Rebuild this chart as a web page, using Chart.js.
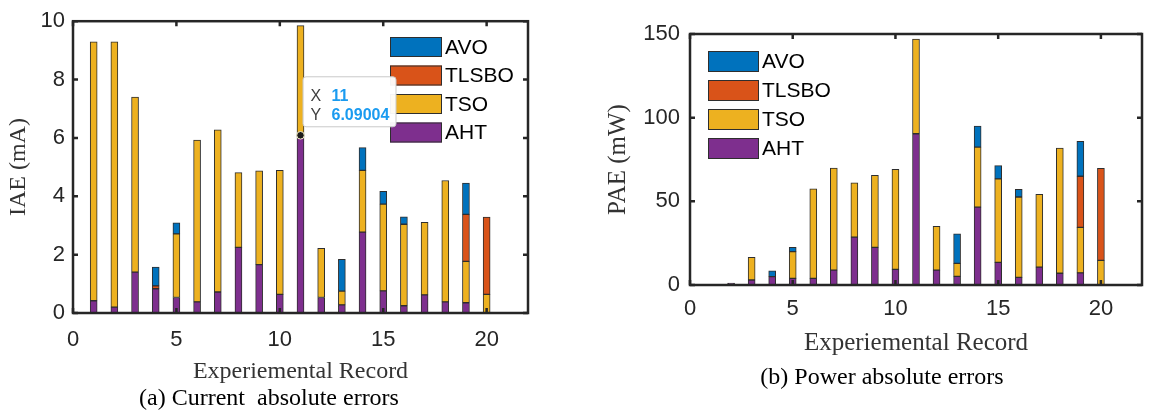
<!DOCTYPE html>
<html>
<head>
<meta charset="utf-8">
<script src="https://cdn.jsdelivr.net/npm/chart.js@4.4.1/dist/chart.umd.min.js"></script>
<style>
  body { margin: 0; background: #fff; width: 1154px; height: 413px; overflow: hidden; }
  canvas { position: absolute; top: 0; }
  #iae { left: 0; }
  #pae { left: 577px; }
</style>
</head>
<body>
<canvas id="iae" width="577" height="413"></canvas>
<canvas id="pae" width="577" height="413"></canvas>
<script>
// experimental records on the x axis
const records = [1, 2, 3, 4, 5, 6, 7, 8, 9, 10, 11, 12, 13, 14, 15, 16, 17, 18, 19, 20];

// current absolute errors (mA), one array per method
const iaeAHT   = [0.42, 0.20, 1.40, 0.83, 0.53, 0.38, 0.72, 2.25, 1.66, 0.64, 6.09004, 0.53, 0.28, 2.77, 0.76, 0.25, 0.62, 0.38, 0.35, 0];
const iaeTSO   = [8.87, 9.09, 6.00, 0, 2.18, 5.55, 5.56, 2.56, 3.21, 4.25, 3.76, 1.69, 0.47, 2.12, 2.97, 2.79, 2.49, 4.16, 1.42, 0.64];
const iaeTLSBO = [0, 0, 0, 0.10, 0, 0, 0, 0, 0, 0, 0, 0, 0, 0, 0, 0, 0, 0, 1.61, 2.65];
const iaeAVO   = [0, 0, 0, 0.64, 0.38, 0, 0, 0, 0, 0, 0, 0, 1.09, 0.78, 0.44, 0.26, 0, 0, 1.07, 0];

// power absolute errors (mW)
const paeAHT   = [0, 1.2, 3.0, 5.0, 4.0, 4.0, 8.9, 28.6, 22.5, 9.3, 90.4, 8.9, 5.2, 46.5, 13.5, 4.6, 10.7, 7.0, 7.2, 0];
const paeTSO   = [0, 0, 13.5, 0, 15.9, 53.4, 61.0, 32.4, 43.1, 59.8, 56.6, 26.1, 7.7, 35.9, 49.9, 48.0, 43.5, 74.8, 27.2, 14.7];
const paeTLSBO = [0, 0, 0, 0, 0, 0, 0, 0, 0, 0, 0, 0, 0, 0, 0, 0, 0, 0, 30.6, 55.0];
const paeAVO   = [0, 0, 0, 3.5, 2.6, 0, 0, 0, 0, 0, 0, 0, 17.7, 12.5, 7.9, 4.6, 0, 0, 20.8, 0];

// stacking order bottom -> top
const methods = ["AHT", "TSO", "TLSBO", "AVO"];
const methodColors = { AVO: "#0072BD", TLSBO: "#D95319", TSO: "#EDB120", AHT: "#7E2F8E" };

const sans = "'Liberation Sans', Arial, sans-serif";
const serif = "'Liberation Serif', 'Times New Roman', serif";
const ink = "#262626";

const toPoints = vals => records.map((r, i) => ({ x: r, y: vals[i] }));

const makeDatasets = series => methods.map(m => ({
  label: m,
  data: toPoints(series[m]),
  backgroundColor: methodColors[m],
  borderColor: "#2e2e2e",
  borderWidth: 1,
  borderSkipped: false,
  barThickness: 7
}));

// axes box with MATLAB-style inward ticks
const framePlugin = {
  id: "frame",
  afterDatasetsDraw(chart) {
    const { ctx, chartArea: a, scales: { x, y } } = chart;
    ctx.save();
    ctx.strokeStyle = ink;
    ctx.lineWidth = 2.5;
    ctx.beginPath();
    x.ticks.forEach(t => {
      const px = x.getPixelForValue(t.value);
      ctx.moveTo(px, a.bottom); ctx.lineTo(px, a.bottom - 5);
      ctx.moveTo(px, a.top); ctx.lineTo(px, a.top + 5);
    });
    y.ticks.forEach(t => {
      const py = y.getPixelForValue(t.value);
      ctx.moveTo(a.left, py); ctx.lineTo(a.left + 5, py);
      ctx.moveTo(a.right, py); ctx.lineTo(a.right - 5, py);
    });
    ctx.stroke();
    ctx.strokeRect(a.left, a.top, a.width, a.height);
    ctx.restore();
  }
};

// legend drawn top-down in reverse stacking order
const keyPlugin = {
  id: "keyBox",
  afterDatasetsDraw(chart, args, opts) {
    const { ctx } = chart;
    ctx.save();
    ctx.font = `21px ${sans}`;
    ctx.textBaseline = "middle";
    ctx.textAlign = "left";
    [...methods].reverse().forEach((m, i) => {
      const top = opts.y + i * opts.step;
      ctx.fillStyle = methodColors[m];
      ctx.fillRect(opts.x, top, opts.w, opts.h);
      ctx.strokeStyle = "#2e2e2e";
      ctx.lineWidth = 1;
      ctx.strokeRect(opts.x + 0.5, top + 0.5, opts.w - 1, opts.h - 1);
      ctx.fillStyle = "#000";
      ctx.fillText(m, opts.x + opts.w + 3, top + opts.h / 2 + 1);
    });
    ctx.restore();
  }
};

// data tip on one point
const tipPlugin = {
  id: "datatip",
  afterDatasetsDraw(chart, args, opts) {
    if (opts.x == null) return;
    const { ctx, scales: { x, y } } = chart;
    const px = x.getPixelForValue(opts.x);
    const py = y.getPixelForValue(opts.y);
    const bx = px + 2, by = py - 59, bw = 93, bh = 50;
    ctx.save();
    ctx.fillStyle = "rgba(255,255,255,0.95)";
    ctx.strokeStyle = "#c9c9c9";
    ctx.lineWidth = 1;
    ctx.beginPath();
    ctx.roundRect(bx + 0.5, by + 0.5, bw, bh, 3);
    ctx.fill();
    ctx.stroke();
    ctx.textBaseline = "middle";
    ctx.font = `16px ${sans}`;
    ctx.fillStyle = "#404040";
    ctx.fillText("X", bx + 8, by + 20);
    ctx.fillText("Y", bx + 8, by + 39);
    ctx.font = `bold 16px ${sans}`;
    ctx.fillStyle = "#1a9bf0";
    ctx.fillText(String(opts.x), bx + 29, by + 20);
    ctx.fillText(String(opts.y), bx + 29, by + 39);
    ctx.beginPath();
    ctx.arc(px, py, 3.8, 0, Math.PI * 2);
    ctx.fillStyle = "#1c1c1c";
    ctx.fill();
    ctx.strokeStyle = "#f4efc6";
    ctx.stroke();
    ctx.restore();
  }
};

// sub-figure caption under each plot
const captionPlugin = {
  id: "caption",
  afterDraw(chart, args, opts) {
    const { ctx } = chart;
    ctx.save();
    ctx.font = `24px ${serif}`;
    ctx.fillStyle = "#000";
    ctx.textAlign = "center";
    ctx.textBaseline = "middle";
    ctx.fillText(opts.text, opts.x, opts.y);
    ctx.restore();
  }
};

function buildChart(id, cfg) {
  return new Chart(document.getElementById(id), {
    type: "bar",
    data: { datasets: makeDatasets(cfg.series) },
    plugins: [framePlugin, keyPlugin, tipPlugin, captionPlugin],
    options: {
      responsive: false,
      animation: false,
      devicePixelRatio: 1,
      layout: { padding: { left: 0, top: cfg.area.top, right: 577 - cfg.area.right, bottom: 0 } },
      plugins: {
        legend: { display: false },
        tooltip: { enabled: false },
        keyBox: cfg.key,
        datatip: cfg.tip || {},
        caption: cfg.caption
      },
      scales: {
        x: {
          type: "linear",
          min: 0,
          max: 22,
          offset: false,
          stacked: true,
          grid: { display: false, drawTicks: false },
          border: { display: false },
          ticks: {
            stepSize: 5,
            includeBounds: false,
            maxRotation: 0,
            padding: cfg.xTickPad,
            color: ink,
            font: { family: sans, size: 22 }
          },
          title: {
            display: true,
            text: "Experiemental Record",
            color: "#333",
            font: { family: serif, size: cfg.titleSize },
            padding: { top: 0, bottom: cfg.xTitlePad }
          },
          afterFit: s => { s.height = 413 - cfg.area.bottom; }
        },
        y: {
          min: 0,
          max: cfg.yMax,
          stacked: true,
          grid: { display: false, drawTicks: false },
          border: { display: false },
          ticks: {
            stepSize: cfg.yStep,
            padding: cfg.yTickPad,
            color: ink,
            font: { family: sans, size: 22 }
          },
          title: {
            display: true,
            text: cfg.yTitle,
            color: "#333",
            font: { family: serif, size: cfg.titleSize },
            padding: { top: cfg.yTitlePad, bottom: 0 }
          },
          afterFit: s => { s.width = cfg.area.left; }
        }
      }
    }
  });
}

buildChart("iae", {
  series: { AHT: iaeAHT, TSO: iaeTSO, TLSBO: iaeTLSBO, AVO: iaeAVO },
  area: { left: 73, right: 528, top: 18, bottom: 313 },
  yMax: 10, yStep: 2, yTitle: "IAE (mA)",
  titleSize: 24, xTickPad: 14, yTickPad: 8, xTitlePad: 27, yTitlePad: 4,
  key: { x: 390, y: 37, w: 52, h: 20, step: 28.5 },
  tip: { x: records[10], y: iaeAHT[10] },
  caption: { text: "(a) Current  absolute errors", x: 269, y: 399 }
});

buildChart("pae", {
  series: { AHT: paeAHT, TSO: paeTSO, TLSBO: paeTLSBO, AVO: paeAVO },
  area: { left: 113, right: 565, top: 34, bottom: 285 },
  yMax: 150, yStep: 50, yTitle: "PAE (mW)",
  titleSize: 25, xTickPad: 11, yTickPad: 10, xTitlePad: 55, yTitlePad: 26,
  key: { x: 131, y: 51, w: 51, h: 21, step: 29 },
  caption: { text: "(b) Power absolute errors", x: 305, y: 378 }
});
</script>
</body>
</html>
